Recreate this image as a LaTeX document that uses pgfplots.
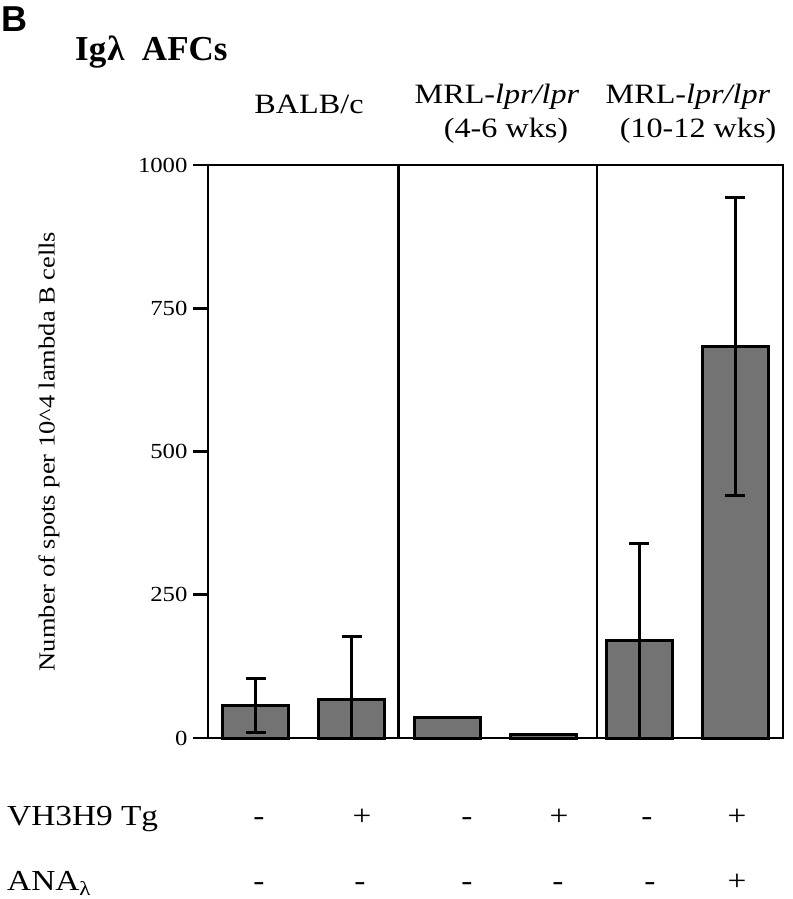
\documentclass[border=0pt]{standalone}
\usepackage{fontspec}
\setmainfont{Liberation Serif}[FakeStretch=1.15]
\newfontfamily\plainserif{Liberation Serif}
\newfontfamily\sansb{Liberation Sans}[BoldFont={Liberation Sans Bold}]
\usepackage{pgfplots}
\pgfplotsset{compat=1.18}
\begin{document}
\begin{tikzpicture}
\useasboundingbox (0,0) rectangle (792pt,-899pt);
\begin{axis}[
  at={(208pt,-738pt)}, anchor=south west,
  scale only axis, width=575pt, height=573pt,
  xmin=-0.5, xmax=5.5, ymin=0, ymax=1000,
  xtick=\empty,
  ytick={0,250,500,750,1000},
  ytick pos=left,
  tick align=outside,
  major tick length=15pt,
  axis line style={line width=2.8pt},
  every tick/.style={line width=2.8pt, black},
  scaled y ticks=false,
  /pgf/number format/assume math mode=true,
  /pgf/number format/1000 sep={},
  yticklabel style={font=\fontsize{21.5}{25}\selectfont, xshift=-2pt},
  ylabel={Number of spots per 10\^{}4 lambda B cells},
  ylabel style={font=\fontsize{23}{27}\selectfont, at={(axis description cs:-0.2765,0.5)}, anchor=center},
  clip=false,
]
\addplot[ybar, bar width=66pt, bar shift=0pt, fill=black!55, draw=black, line width=3pt,
  error bars/.cd, y dir=both, y explicit,
  error bar style={line width=3pt, black},
  error mark options={line width=3pt, black, mark size=10pt, rotate=90}]
  coordinates {
  (0,56) += (0,47) -= (0,47)
  (1,68) += (0,110) -= (0,68)
  (2,35) += (0,0) -= (0,0)
  (3,6) += (0,0) -= (0,0)
  (4,171) += (0,169) -= (0,171)
  (5,683) += (0,260) -= (0,260)
  };
\addplot[black, line width=2.8pt] coordinates {(1.49,0) (1.49,1000)};
\addplot[black, line width=2.8pt] coordinates {(3.56,0) (3.56,1000)};
\end{axis}
\node[anchor=base west, inner sep=0pt, font=\sansb\bfseries\fontsize{36}{40}\selectfont] at (1pt,-32pt) {B};
\node[anchor=base west, inner sep=0pt, font=\plainserif\bfseries\fontsize{35}{40}\selectfont] at (75pt,-61pt) {Ig\kern1ptλ\ \ AFCs};
\begin{scope}[every node/.style={anchor=base, inner sep=0pt, font=\fontsize{28}{32}\selectfont}]
\node at (309pt,-113pt) {BALB/c};
\node at (497pt,-103pt) {MRL-\textit{lpr/lpr}};
\node at (506pt,-137pt) {(4-6 wks)};
\node at (688pt,-103pt) {MRL-\textit{lpr/lpr}};
\node at (698pt,-137pt) {(10-12 wks)};
\end{scope}
\begin{scope}[every node/.style={anchor=base, inner sep=0pt, font=\fontsize{29}{33}\selectfont}]
\node[anchor=base west] at (7pt,-825pt) {VH3H9 Tg};
\node[anchor=base west] at (7pt,-890pt) {ANA\raisebox{-5pt}{\fontsize{20}{22}\selectfont λ}};
\node at (259pt,-825pt) {-};
\node at (362pt,-825pt) {+};
\node at (467pt,-825pt) {-};
\node at (559pt,-825pt) {+};
\node at (647pt,-825pt) {-};
\node at (737pt,-825pt) {+};
\node at (259pt,-890pt) {-};
\node at (360pt,-890pt) {-};
\node at (467pt,-890pt) {-};
\node at (558pt,-890pt) {-};
\node at (650pt,-890pt) {-};
\node at (737pt,-890pt) {+};
\end{scope}
\end{tikzpicture}
\end{document}
